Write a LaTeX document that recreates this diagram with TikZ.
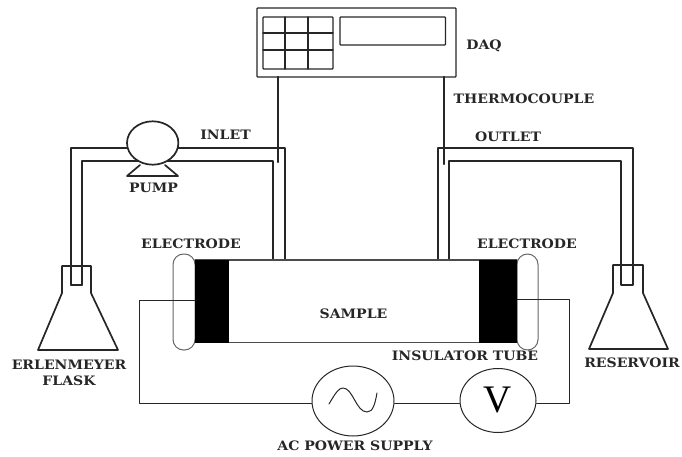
\documentclass[tikz,border=0pt]{standalone}
\usepackage{fontspec}
\setmainfont{DejaVu Serif}
\newfontfamily\labelfont[FakeStretch=1.08]{DejaVu Serif}
\newfontfamily\voltfont{Liberation Serif}
\usetikzlibrary{shapes.geometric}
\tikzset{
	lbl/.style={font=\labelfont\fontsize{13}{16}\selectfont\bfseries,text=black!85,inner sep=0pt,align=center},
	pipe/.style={line width=1.7pt,black!85},
	wire/.style={line width=1pt,black!85},
	thin box/.style={line width=1.3pt,black!85,rounded corners=0.8pt},
	meter/.style={draw=black!85,line width=1pt,ellipse,inner sep=0pt,minimum width=#1},
}
\begin{document}
\begin{tikzpicture}[line join=round, line cap=round,x=1pt,y=-1pt]
	\useasboundingbox (0,0) rectangle (682,457);
	\path
	(278,77) coordinate (TL)
	(444,77) coordinate (TR)
	(278,162) coordinate (TLe)
	(444,164) coordinate (TRe)
	(139,300) coordinate (WL)
	(139,403) coordinate (WLb)
	(569,403) coordinate (WRb)
	(569,299) coordinate (WR)
	;
	% DAQ
	\draw[thin box] (257,8) rectangle (456,77);
	\draw[thin box] (263,17) rectangle (333,69);
	\draw[thin box] (340,17) rectangle (445.5,45);
	\foreach \x in {285,308}{
		\draw[thin box] (\x,17)--(\x,69);
	};
	\foreach \y in {33,50}{
		\draw[thin box] (263,\y)--(333,\y);
	};
	\draw[pipe,line width=2.2pt] (TL)--(TLe);
	\draw[pipe,line width=2.2pt] (TR)--(TRe);
	% inlet and outlet
	\draw[pipe] (71,285)--(71,148)--(285,148)--(285,260);
	\draw[pipe] (82,285)--(82,161)--(273,161)--(273,260);
	\draw[pipe] (71,285)--(82,285);
	\draw[pipe] (438,260)--(438,148)--(633,148)--(633,285)--(621,285)--(621,161)--(449,161)--(449,260);
	% pump
	\draw[pipe] (140,165)--(127,176)--(178,176)--(165,165);
	\node[meter=51.4pt,minimum height=43.4pt,fill=white,line width=1.7pt] (pump) at (152.7,143) {};
	% flasks
	\draw[pipe] (62,266)--(62,293)--(38,350)--(118,350)--(91,293)--(91,266)--cycle;
	\draw[pipe] (613,265)--(613,293)--(589,349)--(668,349)--(643,293)--(643,265)--cycle;
	% sample tube
	\draw[wire,black!60,rounded corners=10.5pt] (173,254) rectangle (195,350);
	\draw[wire,black!60,rounded corners=10.5pt] (517,254) rectangle (538,350);
	\draw[line width=1.2pt,black!70] (195,260)--(517,260) (195,342.5)--(517,342.5);
	\node[fill=black,minimum width=34pt,minimum height=83pt,inner sep=0pt] (elecL) at (212,301.5) {};
	\node[fill=black,minimum width=38pt,minimum height=83pt,inner sep=0pt] (elecR) at (498,301.5) {};
	% circuit
	\node[meter=82pt,minimum height=70pt] (ac) at (353,401) {};
	\node[meter=76pt,minimum height=64pt,font=\voltfont\fontsize{39}{39}\selectfont] (volt) at (498,400.5) {V};
	\draw[wire] (elecL.west|-WL)--(WL)--(WLb)--(ac.west|-WLb);
	\draw[wire] (ac.east|-WLb)--(volt.west|-WLb);
	\draw[wire] (volt.east|-WLb)--(WRb)--(WR)--(elecR.east|-WR);
	\draw[wire] (329,404) .. controls (336,392) and (339,388) .. (343,388) .. controls (353,388) and (356,412) .. (367,412) .. controls (373,412) and (375,404) .. (377,393);
	% labels
	\foreach \n/\tx/\xp/\yp in {daq/DAQ/484/46,tc/THERMOCOUPLE/524/99,in/INLET/225.5/135,out/OUTLET/508/137,pm/PUMP/153.5/188,eL/ELECTRODE/191/244,eR/ELECTRODE/527/244,sm/SAMPLE/353.5/314,ins/INSULATOR TUBE/465/356,res/RESERVOIR/632/363,acl/AC POWER SUPPLY/355/446}{
		\node[lbl] (\n) at (\xp,\yp) {\tx};
	};
	\node[lbl] (flask) at (69,373) {ERLENMEYER\\FLASK};
\end{tikzpicture}
\end{document}
